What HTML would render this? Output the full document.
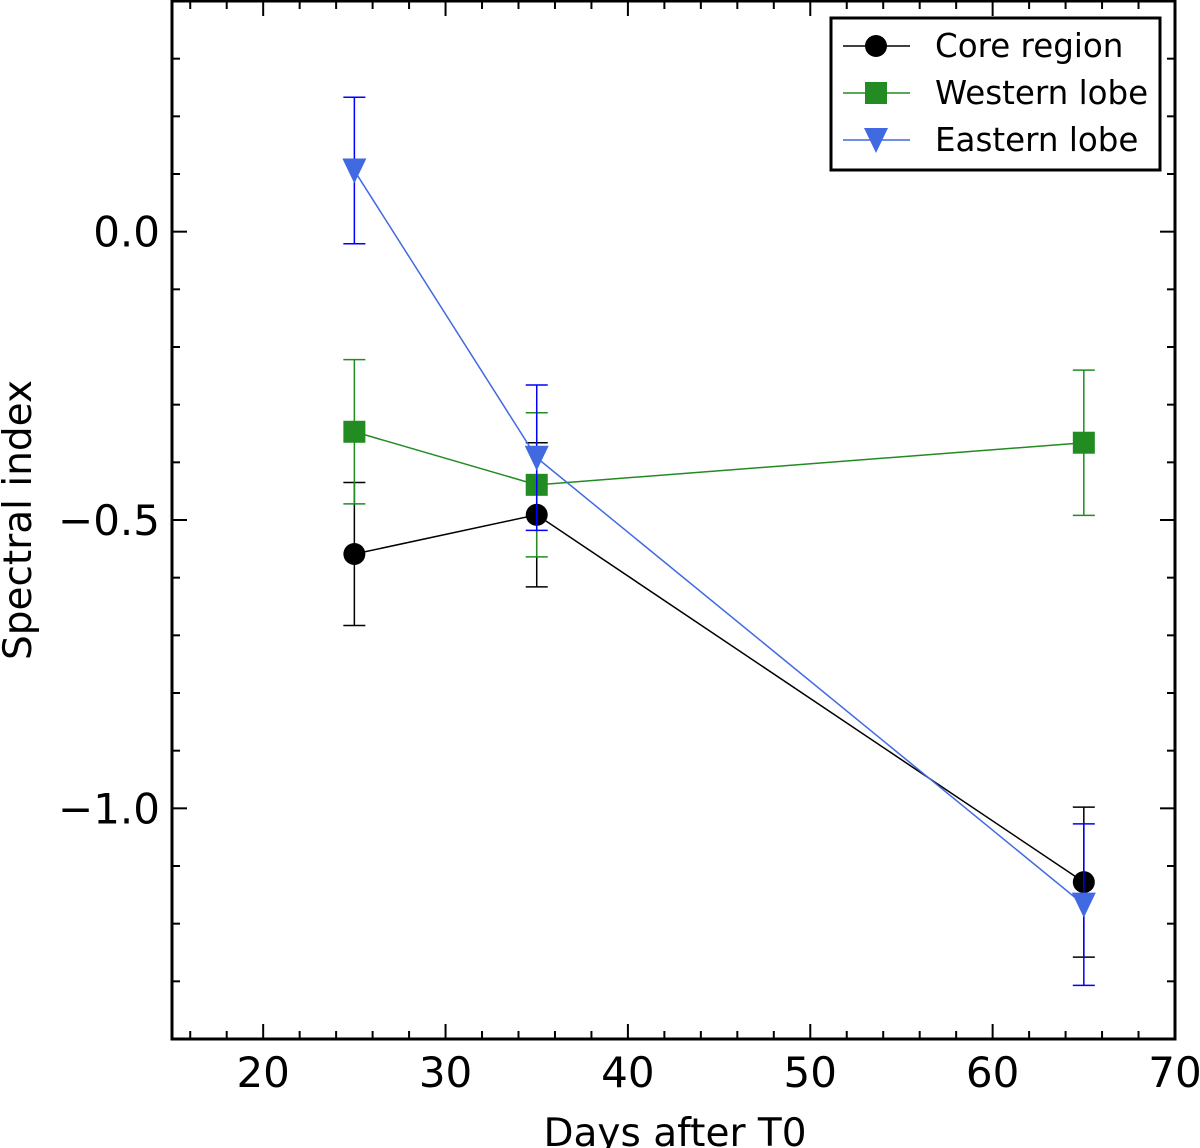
<!DOCTYPE html>
<html><head><meta charset="utf-8"><style>
html,body{margin:0;padding:0;background:#fff;}
svg{display:block;font-family:"DejaVu Sans","Liberation Sans",sans-serif;}
</style></head><body>
<svg id="chart" width="1200" height="1148" viewBox="0 0 1200 1148"></svg>
<script>
const days = [25, 35, 65];
const coreVals = [-0.559, -0.491, -1.128];
const coreErr = [0.124, 0.125, 0.13];
const westVals = [-0.347, -0.439, -0.366];
const westErr = [0.125, 0.125, 0.126];
const eastVals = [0.106, -0.392, -1.167];
const eastErr = [0.127, 0.126, 0.14];
const xTicks = [20, 30, 40, 50, 60, 70];
const yTicks = [0.0, -0.5, -1.0];
const yTickLabels = ["0.0", "\u22120.5", "\u22121.0"];

const L=172,R=1175,T=1,B=1039;
const X0=15,X1=70,Y0=-1.4,Y1=0.4;
const sx=v=>L+(v-X0)/(X1-X0)*(R-L);
const sy=v=>B-(v-Y0)/(Y1-Y0)*(B-T);
const svg=document.getElementById('chart');
const NS='http://www.w3.org/2000/svg';
function mk(tag,attrs,parent){const e=document.createElementNS(NS,tag);for(const k in attrs)e.setAttribute(k,attrs[k]);(parent||svg).appendChild(e);return e;}

// ticks
const tg=mk('g',{});


for(let v=16;v<=70;v+=2){const x=sx(v);const major=(v%10===0);const len=major?15:8;
 mk('line',{x1:x,y1:B,x2:x,y2:B-len,stroke:'#000','stroke-width':2},tg);
 mk('line',{x1:x,y1:T,x2:x,y2:T+len,stroke:'#000','stroke-width':2},tg);}
for(let i=-14;i<=4;i++){const v=i/10;const y=sy(v);const major=(i%5===0);const len=major?15:8;
 mk('line',{x1:L,y1:y,x2:L+len,y2:y,stroke:'#000','stroke-width':2},tg);
 mk('line',{x1:R,y1:y,x2:R-len,y2:y,stroke:'#000','stroke-width':2},tg);}
xTicks.forEach(v=>{const t=mk('text',{x:sx(v),y:1087,'text-anchor':'middle','font-size':42},tg);t.textContent=String(v);
 
 });
yTicks.forEach((v,i)=>{const t=mk('text',{x:160,y:sy(v)+15,'text-anchor':'end','font-size':42},tg);t.textContent=yTickLabels[i];
 
 });

function series(name,vals,errs,lineC,errC,marker){
 const g=mk('g',{});
 
 
 mk('polyline',{points:days.map((d,i)=>sx(d)+','+sy(vals[i])).join(' '),fill:'none',stroke:lineC,'stroke-width':1.5},g);
 days.forEach((d,i)=>{const x=sx(d),y1=sy(vals[i]+errs[i]),y2=sy(vals[i]-errs[i]);
  mk('line',{x1:x,y1:y1,x2:x,y2:y2,stroke:errC,'stroke-width':1.5},g);
  mk('line',{x1:x-11,y1:y1,x2:x+11,y2:y1,stroke:errC,'stroke-width':1.5},g);
  mk('line',{x1:x-11,y1:y2,x2:x+11,y2:y2,stroke:errC,'stroke-width':1.5},g);});
 days.forEach((d,i)=>marker(g,sx(d),sy(vals[i])));
}
const circ=(g,x,y)=>mk('circle',{cx:x,cy:y,r:11,fill:'#000'},g);
const sq=(g,x,y)=>mk('rect',{x:x-11,y:y-11,width:22,height:22,fill:'#228B22'},g);
const tri=(g,x,y)=>mk('polygon',{points:`${x-12},${y-12} ${x+12},${y-12} ${x},${y+13}`,fill:'#4169E1'},g);
series('core-region-series',coreVals,coreErr,'#000','#000',circ);
series('western-lobe-series',westVals,westErr,'#228B22','#228B22',sq);
series('eastern-lobe-series',eastVals,eastErr,'#4169E1','#0000FF',tri);

// frame
const fr=mk('rect',{x:L,y:T,width:R-L,height:B-T,fill:'none',stroke:'#000','stroke-width':3});



// legend
const lg=mk('g',{});


mk('rect',{x:831,y:18,width:329,height:152,fill:'#fff',stroke:'#000','stroke-width':3},lg);
const entries=[['Core region','#000',circ],['Western lobe','#228B22',sq],['Eastern lobe','#4169E1',tri]];
entries.forEach((e,i)=>{const y=46+i*47;
 const eg=mk('g',{},lg);
 
 
 mk('line',{x1:843,y1:y,x2:910,y2:y,stroke:e[1],'stroke-width':1.5},eg);
 e[2](eg,876,y);
 const t=mk('text',{x:935,y:y+11,'font-size':32.5},eg);t.textContent=e[0];});

// axis labels
const xl=mk('text',{x:675,y:1146,'text-anchor':'middle','font-size':39});xl.textContent='Days after T0';


const yl=mk('text',{x:0,y:0,'text-anchor':'middle','font-size':39,transform:'translate(31,520) rotate(-90)'});yl.textContent='Spectral index';


</script>
</body></html>
